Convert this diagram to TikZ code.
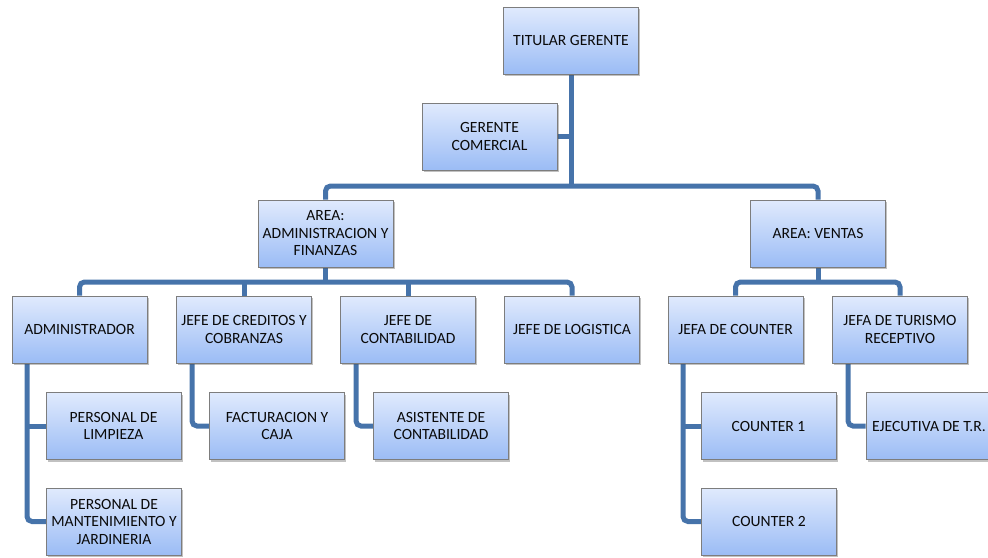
\documentclass[tikz,border=0pt]{standalone}
\usepackage{fontspec}
\setmainfont{Carlito}
\usetikzlibrary{shadows,backgrounds}
\definecolor{linec}{RGB}{70,115,170}
\definecolor{boxtop}{RGB}{224,234,253}
\definecolor{boxbot}{RGB}{155,188,245}
\definecolor{boxedge}{RGB}{125,125,125}
\definecolor{txt}{RGB}{10,10,10}
\tikzset{
  orgbox/.style={draw=boxedge, line width=1pt, top color=boxtop, bottom color=boxbot,
    minimum width=135pt, minimum height=67pt, inner sep=1pt, align=center,
    text=txt, font=\fontsize{15.6}{17.5}\selectfont,
    drop shadow={opacity=0.35, shadow xshift=1.5pt, shadow yshift=-2pt, fill=black!70}},
  conn/.style={draw=linec, line width=5pt, rounded corners=5pt}
}
\begin{document}
\begin{tikzpicture}[x=1pt,y=-1pt]
\useasboundingbox (0,0) rectangle (988,557);
\clip (0,0) rectangle (988,557);
\node[orgbox] (tg) at (571,40.5) {TITULAR GERENTE};
\node[orgbox] (gc) at (489.5,136.5) {GERENTE\\COMERCIAL};
\node[orgbox] (aaf) at (325.5,233.5) {AREA:\\ADMINISTRACION Y\\FINANZAS};
\node[orgbox] (av) at (818,233.5) {AREA: VENTAS};
\node[orgbox] (adm) at (79.5,329.5) {ADMINISTRADOR};
\node[orgbox] (jcc) at (244,329.5) {JEFE DE CREDITOS Y\\COBRANZAS};
\node[orgbox] (jc) at (408,329.5) {JEFE DE\\CONTABILIDAD};
\node[orgbox] (jl) at (572,329.5) {JEFE DE LOGISTICA};
\node[orgbox] (jfc) at (735.5,329.5) {JEFA DE COUNTER};
\node[orgbox] (jtr) at (900,329.5) {JEFA DE TURISMO\\RECEPTIVO};
\node[orgbox] (pl) at (113.5,426) {PERSONAL DE\\LIMPIEZA};
\node[orgbox] (fc) at (277,426) {FACTURACION Y\\CAJA};
\node[orgbox] (ac) at (441,426) {ASISTENTE DE\\CONTABILIDAD};
\node[orgbox] (c1) at (768.5,426) {COUNTER 1};
\node[orgbox] (etr) at (933.5,426) {\makebox[123pt][l]{EJECUTIVA DE T.R.}};
\node[orgbox] (pm) at (114,521.5) {PERSONAL DE\\MANTENIMIENTO Y\\JARDINERIA};
\node[orgbox] (c2) at (769,521.5) {COUNTER 2};
\coordinate (busA) at (0,186);
\coordinate (busB) at (0,282);
\coordinate (vA) at (27,0);
\coordinate (vB) at (192,0);
\coordinate (vC) at (356,0);
\coordinate (vD) at (683,0);
\coordinate (vE) at (848,0);
\begin{scope}[on background layer]
\draw[conn] (tg.south) -- (tg.south |- busA);
\draw[conn] (gc.east) -- (gc.east -| tg.south);
\draw[conn] (aaf.north) -- (aaf.north |- busA) -- (av.north |- busA) -- (av.north);
\draw[conn] (aaf.south) -- (aaf.south |- busB);
\draw[conn] (adm.north) -- (adm.north |- busB) -- (jl.north |- busB) -- (jl.north);
\draw[conn] (jcc.north) -- (jcc.north |- busB);
\draw[conn] (jc.north) -- (jc.north |- busB);
\draw[conn] (av.south) -- (av.south |- busB);
\draw[conn] (jfc.north) -- (jfc.north |- busB) -- (jtr.north |- busB) -- (jtr.north);
\draw[conn] (vA |- adm.south) -- (vA |- pm.west) -- (pm.west);
\draw[conn] (vA |- pl.west) -- (pl.west);
\draw[conn] (vB |- jcc.south) -- (vB |- fc.west) -- (fc.west);
\draw[conn] (vC |- jc.south) -- (vC |- ac.west) -- (ac.west);
\draw[conn] (vD |- jfc.south) -- (vD |- c2.west) -- (c2.west);
\draw[conn] (vD |- c1.west) -- (c1.west);
\draw[conn] (vE |- jtr.south) -- (vE |- etr.west) -- (etr.west);
\end{scope}
\end{tikzpicture}
\end{document}
